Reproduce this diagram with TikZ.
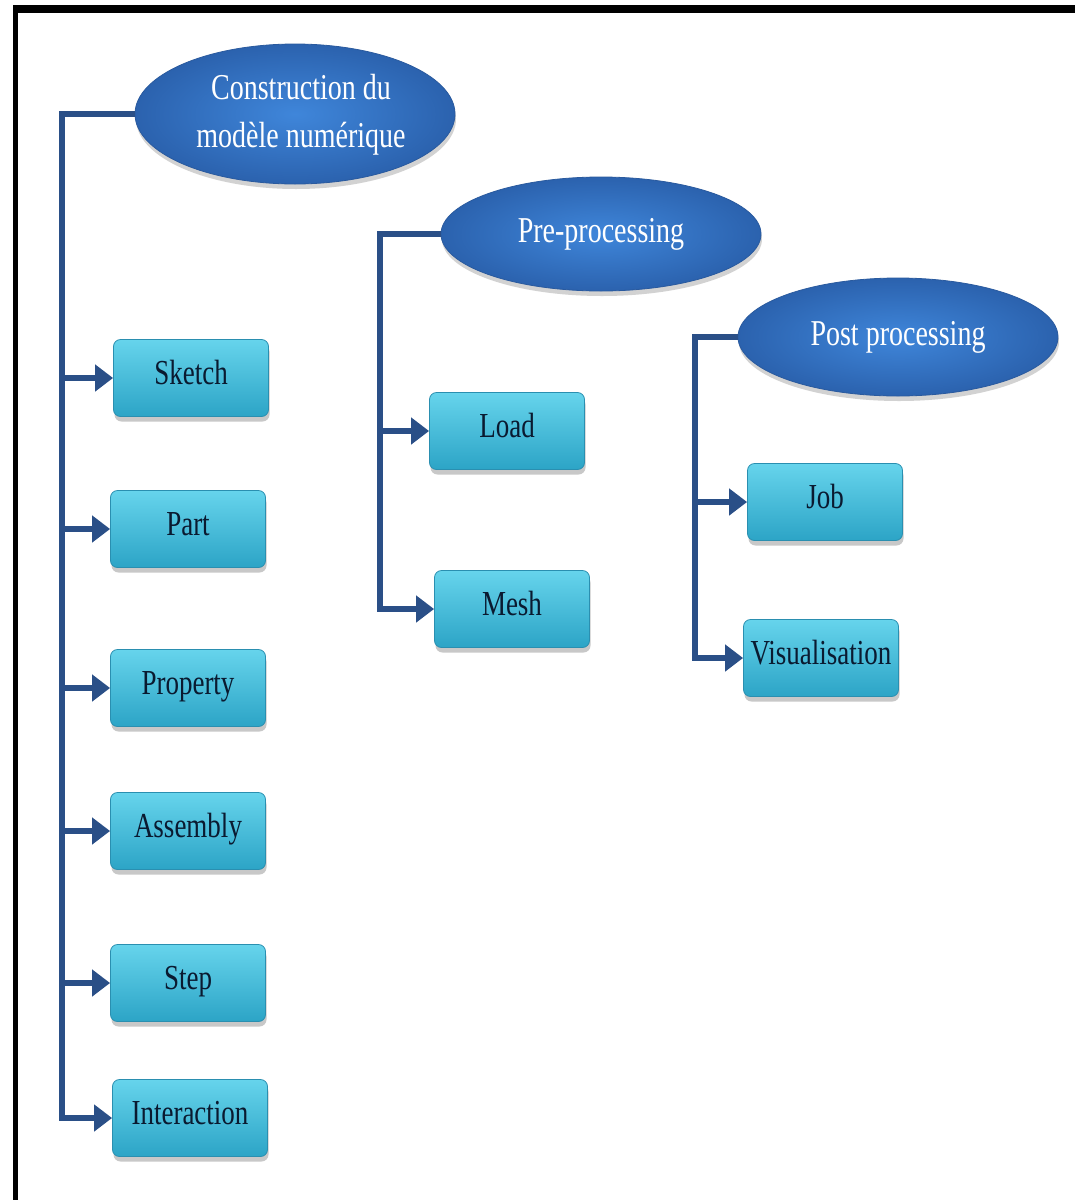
\documentclass[tikz,border=0pt]{standalone}
\usepackage{fontspec}
\setmainfont{Liberation Serif}
\usepackage{graphicx}
\usetikzlibrary{shapes.geometric,shadows,arrows.meta}
\definecolor{connc}{HTML}{2A4F87}
\definecolor{boxtop}{HTML}{66D4EC}
\definecolor{boxbot}{HTML}{2CA4C6}
\definecolor{boxline}{HTML}{2A8FB0}
\definecolor{elin}{HTML}{3F86DA}
\definecolor{elout}{HTML}{2B62AE}
\definecolor{elline}{HTML}{2A5A9E}
\definecolor{boxtext}{HTML}{0A1A30}
\newcommand{\vstr}[1]{\scalebox{1}[1.3]{#1}}
\begin{document}
\begin{tikzpicture}[x=1pt,y=-1pt,
 oval/.style={ellipse, draw=elline, line width=0.8pt, inner color=elin, outer color=elout,
   minimum width=320pt, minimum height=114pt, inner sep=0pt, text=white,
   font=\fontsize{28}{37}\selectfont,
   drop shadow={shadow xshift=1pt,shadow yshift=-5pt,opacity=0.25,fill=black!70}},
 task/.style={rectangle, rounded corners=7pt, draw=boxline, line width=0.8pt,
   top color=boxtop, bottom color=boxbot, minimum width=155pt, minimum height=77pt,
   inner sep=0pt, text=boxtext, font=\fontsize{27}{32}\selectfont,
   text height=22pt, text depth=10pt,
   drop shadow={shadow xshift=1pt,shadow yshift=-5pt,opacity=0.3,fill=black!70}},
 link/.style={draw=connc, line width=6.5pt},
 arr/.style={link, -{Triangle[length=18pt,width=26pt]}}
]
\useasboundingbox (0,0) rectangle (1075,1200);
\fill[white] (0,0) rectangle (1075,1200);
% frame
\fill[black] (13,5) rectangle (1075,13);
\fill[black] (13,5) rectangle (18,1200);

% ellipses
\node[oval, minimum height=140pt] (e1) at (295,114)
  {\hspace*{12pt}\vstr{\begin{tabular}{@{}c@{}}Construction du\\modèle numérique\end{tabular}}};
\node[oval] (e2) at (601,234) {\vstr{Pre-processing}};
\node[oval, minimum height=118pt] (e3) at (898,337) {\vstr{Post processing}};

% boxes
\node[task] (sketch) at (191,378) {\vstr{Sketch}};
\node[task] (part) at (188,529) {\vstr{Part}};
\node[task] (property) at (188,688) {\vstr{Property}};
\node[task] (assembly) at (188,831) {\vstr{Assembly}};
\node[task] (stepbox) at (188,983) {\vstr{Step}};
\node[task] (interaction) at (190,1118) {\vstr{Interaction}};
\node[task] (load) at (507,431) {\vstr{Load}};
\node[task] (mesh) at (512,609) {\vstr{Mesh}};
\node[task] (job) at (825,502) {\vstr{Job}};
\node[task] (visu) at (821,658) {\vstr{Visualisation}};

% trunk corners
\coordinate (t1) at (62,114);
\coordinate (t2) at (380,234);
\coordinate (t3) at (695,337);

% connectors
\draw[arr] (e1.west) -- (t1) |- (interaction.west);
\draw[arr] (sketch.west -| t1) -- (sketch.west);
\draw[arr] (part.west -| t1) -- (part.west);
\draw[arr] (property.west -| t1) -- (property.west);
\draw[arr] (assembly.west -| t1) -- (assembly.west);
\draw[arr] (stepbox.west -| t1) -- (stepbox.west);

\draw[arr] (e2.west) -- (t2) |- (mesh.west);
\draw[arr] (load.west -| t2) -- (load.west);

\draw[arr] (e3.west) -- (t3) |- (visu.west);
\draw[arr] (job.west -| t3) -- (job.west);
\end{tikzpicture}
\end{document}
